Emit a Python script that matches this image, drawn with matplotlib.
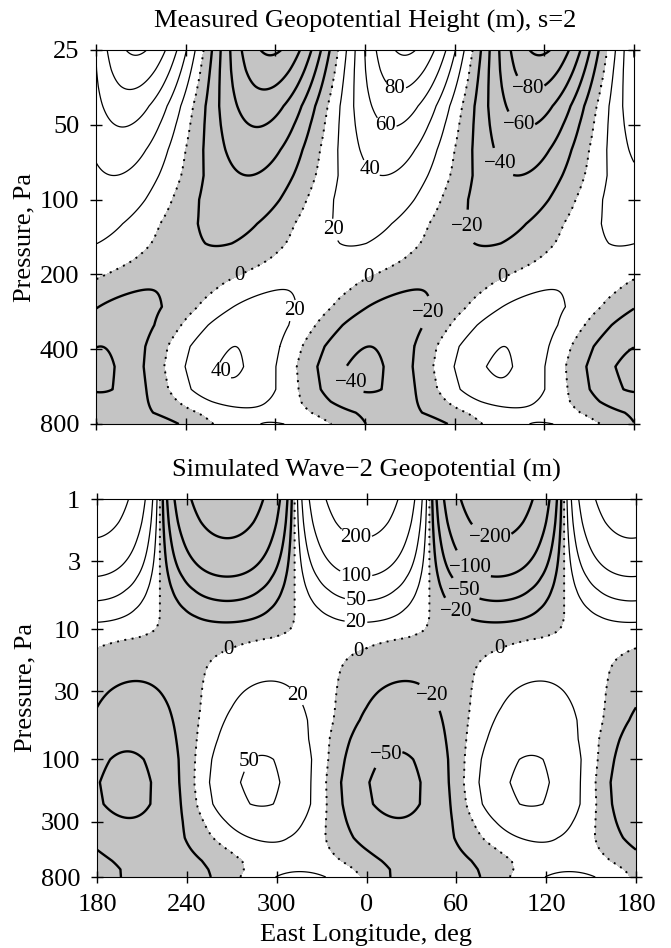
import numpy as np
import matplotlib
matplotlib.use("Agg")
import matplotlib.pyplot as plt

plt.rcParams['font.family'] = ['Liberation Serif', 'DejaVu Serif']

# measured wave-2 field: amplitude (m), longitude of the minimum (deg) and offset per level
p_meas = [25, 30, 35, 42, 50, 63, 80, 100, 125, 150, 175, 200, 230, 270, 320, 390, 470, 580, 650, 720, 800]
amp_meas = [103, 92, 82, 70, 61, 50, 40, 34, 26, 21, 16, 14, 20, 27, 34, 40, 43, 40, 30, 21, 26]
lonmin_meas = [297, 295, 293, 290, 288, 285, 282, 276, 268, 262, 250, 232, 215, 203, 192, 183, 180, 182, 186, 196, 208]
off_meas = [0, 0, 0, 0, 0, 0, 0, 0, 0, 0, 0, 0, 0, 0, 0, 0, -1, -2, -4, -5, -5]

# simulated wave-2 field
p_sim = [1, 1.5, 2, 3, 4, 5, 6, 7, 8, 9, 10, 11, 12, 14, 17, 20, 25, 30, 40, 50, 70, 100, 150, 220, 300, 400, 500, 600, 700, 800]
amp_sim = [300, 245, 200, 140, 98, 70, 51, 37, 27, 19, 12, 7, 4, 6, 10, 14, 20, 24, 30, 35, 43, 53, 58, 55, 42, 31, 24, 22, 25, 30]
lonmin_sim = [267, 267, 267, 267, 267, 267, 267, 267, 267, 266, 264, 258, 245, 225, 212, 208, 206, 205, 204, 203, 201, 200, 199, 200, 202, 205, 212, 220, 225, 226]
off_sim = [0, 0, 0, 0, 0, 0, 0, 0, 0, 0, 0, 0, 0, 0, 0, 0, 0, 0, 0, 0, -1, -1, -2, -3, -6, -8, -9, -9, -7, -5]

levels_meas = [-100, -80, -60, -40, -20, 0, 20, 40, 60, 80, 100]
levels_sim = [-500, -200, -100, -50, -20, 0, 20, 50, 100, 200, 500]

xticks = [180, 240, 300, 360, 420, 480, 540]
xticklabels = ['180', '240', '300', '0', '60', '120', '180']
yticks_meas = [25, 50, 100, 200, 400, 800]
yticks_sim = [1, 3, 10, 30, 100, 300, 800]

# contour labels: (level, lon, p)
lab_meas = [(80, 380, 36), (60, 374, 50), (40, 360, 79), (20, 336, 134),
            (-80, 469, 36), (-60, 463, 50), (-40, 452, 71), (-20, 423, 131),
            (0, 274, 191), (0, 360, 191), (0, 449, 191),
            (20, 305, 264), (-20, 394, 268), (40, 261, 512), (-40, 354, 534)]
lab_sim = [(200, 353, 1.93), (100, 353, 3.8), (50, 353, 6.1), (20, 353, 8.6),
           (-200, 443, 1.87), (-100, 431, 3.2), (-50, 425, 5.1), (-20, 420, 7.2),
           (0, 267, 13.4), (0, 353, 13.4), (0, 448, 13.4),
           (20, 303, 39), (-20, 392, 40), (50, 284, 107), (-50, 377, 110)]

lon = np.linspace(180, 540, 721)


def fmt(v):
    s = f"{v:.0f}"
    if s == "-0":
        s = "0"
    return s.replace('-', '\u2212')


def panel(ax, p, amp, lonmin, off, levels, labels, yticks, title):
    y = np.log10(p)
    amp = np.array(amp, float)[:, None]
    ph = np.array(lonmin, float)[:, None]
    z = np.array(off, float)[:, None] - amp * np.cos(np.deg2rad(2 * (lon[None, :] - ph)))
    ax.contourf(lon, y, z, levels=[-1e4, 0], colors=['#c4c4c4'])
    for lv in levels:
        if lv == 0:
            cs = ax.contour(lon, y, z, levels=[0], colors='k', linewidths=1.4,
                            linestyles=[(0, (1, 2.8))])
        else:
            cs = ax.contour(lon, y, z, levels=[lv], colors='k',
                            linewidths=1.7 if lv < 0 else 0.9, linestyles='solid')
        pts = [(lx, np.log10(lp)) for (l, lx, lp) in labels if l == lv]
        if pts and len(cs.allsegs[0]) > 0:
            txt = cs.clabel(manual=pts, fmt=fmt, fontsize=15, inline=True, inline_spacing=1)
            for t in txt:
                t.set_rotation(0)
    ax.set_xlim(180, 540)
    ax.set_ylim(np.log10(p[-1]), np.log10(p[0]))
    ax.set_yticks(np.log10(yticks))
    ax.set_yticklabels([str(t) for t in yticks])
    ax.set_xticks(xticks)
    ax.tick_params(direction='inout', length=9, width=1, top=True, right=True, labelsize=19, pad=7.5)
    ax.set_ylabel('Pressure, Pa', fontsize=19, labelpad=3)
    ax.set_title(title, fontsize=19, pad=16)


fig = plt.figure(figsize=(6.71, 9.48), dpi=100)
ax1 = fig.add_axes([96 / 671, 1 - 424 / 948, 538 / 671, 374 / 948])
ax2 = fig.add_axes([97 / 671, 1 - 877 / 948, 539 / 671, 378 / 948])

panel(ax1, p_meas, amp_meas, lonmin_meas, off_meas, levels_meas, lab_meas, yticks_meas,
      'Measured Geopotential Height (m), s=2')
ax1.set_xticklabels([])
panel(ax2, p_sim, amp_sim, lonmin_sim, off_sim, levels_sim, lab_sim, yticks_sim,
      'Simulated Wave\u22122 Geopotential (m)')
ax2.set_xticklabels(xticklabels)
ax2.set_xlabel('East Longitude, deg', fontsize=19, labelpad=6)

fig.savefig('out.png', dpi=100)
